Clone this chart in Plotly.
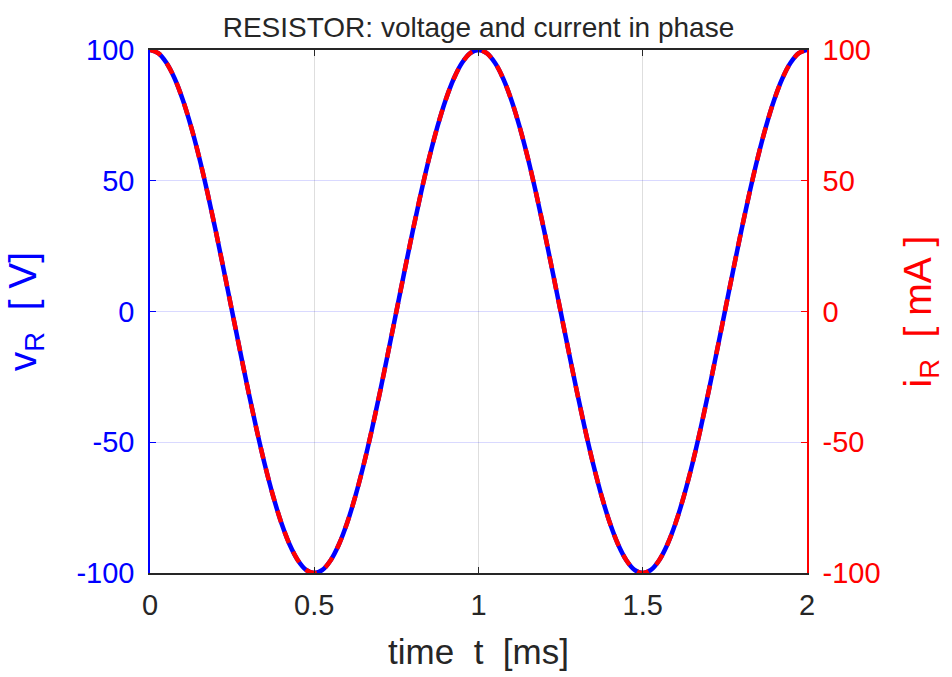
import plotly.graph_objects as go

# time axis [ms]
t_ms = [0.000, 0.025, 0.050, 0.075, 0.100, 0.125, 0.150, 0.175, 0.200, 0.225,
        0.250, 0.275, 0.300, 0.325, 0.350, 0.375, 0.400, 0.425, 0.450, 0.475,
        0.500, 0.525, 0.550, 0.575, 0.600, 0.625, 0.650, 0.675, 0.700, 0.725,
        0.750, 0.775, 0.800, 0.825, 0.850, 0.875, 0.900, 0.925, 0.950, 0.975,
        1.000, 1.025, 1.050, 1.075, 1.100, 1.125, 1.150, 1.175, 1.200, 1.225,
        1.250, 1.275, 1.300, 1.325, 1.350, 1.375, 1.400, 1.425, 1.450, 1.475,
        1.500, 1.525, 1.550, 1.575, 1.600, 1.625, 1.650, 1.675, 1.700, 1.725,
        1.750, 1.775, 1.800, 1.825, 1.850, 1.875, 1.900, 1.925, 1.950, 1.975, 2.000]

# resistor voltage [V]
v_R = [100.0, 98.8, 95.1, 89.1, 80.9, 70.7, 58.8, 45.4, 30.9, 15.6,
       0.0, -15.6, -30.9, -45.4, -58.8, -70.7, -80.9, -89.1, -95.1, -98.8,
       -100.0, -98.8, -95.1, -89.1, -80.9, -70.7, -58.8, -45.4, -30.9, -15.6,
       0.0, 15.6, 30.9, 45.4, 58.8, 70.7, 80.9, 89.1, 95.1, 98.8,
       100.0, 98.8, 95.1, 89.1, 80.9, 70.7, 58.8, 45.4, 30.9, 15.6,
       0.0, -15.6, -30.9, -45.4, -58.8, -70.7, -80.9, -89.1, -95.1, -98.8,
       -100.0, -98.8, -95.1, -89.1, -80.9, -70.7, -58.8, -45.4, -30.9, -15.6,
       0.0, 15.6, 30.9, 45.4, 58.8, 70.7, 80.9, 89.1, 95.1, 98.8, 100.0]

# resistor current [mA]
i_R = [100.0, 98.8, 95.1, 89.1, 80.9, 70.7, 58.8, 45.4, 30.9, 15.6,
       0.0, -15.6, -30.9, -45.4, -58.8, -70.7, -80.9, -89.1, -95.1, -98.8,
       -100.0, -98.8, -95.1, -89.1, -80.9, -70.7, -58.8, -45.4, -30.9, -15.6,
       0.0, 15.6, 30.9, 45.4, 58.8, 70.7, 80.9, 89.1, 95.1, 98.8,
       100.0, 98.8, 95.1, 89.1, 80.9, 70.7, 58.8, 45.4, 30.9, 15.6,
       0.0, -15.6, -30.9, -45.4, -58.8, -70.7, -80.9, -89.1, -95.1, -98.8,
       -100.0, -98.8, -95.1, -89.1, -80.9, -70.7, -58.8, -45.4, -30.9, -15.6,
       0.0, 15.6, 30.9, 45.4, 58.8, 70.7, 80.9, 89.1, 95.1, 98.8, 100.0]

x_ticks = [0, 0.5, 1, 1.5, 2]
x_tick_labels = ["0", "0.5", "1", "1.5", "2"]
y_ticks = [-100, -50, 0, 50, 100]
y_tick_labels = ["-100", "-50", "0", "50", "100"]

FONT = "Liberation Sans, Arial, Helvetica, sans-serif"
NB = "\u00a0"

fig = go.Figure()
fig.add_trace(go.Scatter(x=t_ms, y=v_R, mode="lines", yaxis="y",
                         line=dict(color="#0000ff", width=4.5, shape="spline"),
                         showlegend=False))
fig.add_trace(go.Scatter(x=t_ms, y=i_R, mode="lines", yaxis="y2",
                         line=dict(color="#ff0000", width=4.5, shape="spline", dash="12px,10px"),
                         showlegend=False))

fig.update_layout(
    width=952, height=677,
    margin=dict(l=150, r=145, t=50, b=102),
    paper_bgcolor="white", plot_bgcolor="white",
    font=dict(family=FONT, color="#262626"),
    title=dict(text="RESISTOR: voltage and current in phase",
               font=dict(size=28, color="#262626", family=FONT),
               x=(150 + 807) / 2 / 952, xanchor="center",
               y=1 - 27 / 677, yanchor="middle", yref="container"),
    xaxis=dict(range=[0, 2], tickvals=x_ticks, ticktext=x_tick_labels,
               showgrid=True, gridcolor="#dedede", gridwidth=1,
               zeroline=False, showline=True, linecolor="#262626", linewidth=1.5,
               mirror="ticks", ticks="inside", ticklen=6, tickcolor="#262626",
               tickfont=dict(size=29, color="#262626"), ticklabelstandoff=5,
               title=dict(text=f"time{NB}{NB}t{NB}{NB}[ms]", font=dict(size=35, color="#262626"),
                          standoff=20)),
    yaxis=dict(range=[-100, 100], tickvals=y_ticks, ticktext=y_tick_labels,
               showgrid=True, gridcolor="rgba(0,0,255,0.15)", gridwidth=1,
               zeroline=False, showline=True, linecolor="#0000ff", linewidth=1.5,
               ticks="inside", ticklen=6, tickcolor="#0000ff",
               tickfont=dict(size=29, color="#0000ff"), ticklabelstandoff=8,
               title=dict(text=f"v<sub>R</sub>{NB}{NB}[{NB}V]", font=dict(size=39, color="#0000ff"),
                          standoff=28)),
    yaxis2=dict(range=[-100, 100], tickvals=y_ticks, ticktext=y_tick_labels,
                overlaying="y", side="right",
                showgrid=False, zeroline=False, showline=True, linecolor="#ff0000", linewidth=1.5,
                ticks="inside", ticklen=6, tickcolor="#ff0000",
                tickfont=dict(size=29, color="#ff0000"), ticklabelstandoff=8,
                title=dict(text=f"i<sub>R</sub>{NB}{NB}[{NB}mA{NB}]", font=dict(size=39, color="#ff0000"),
                           standoff=24)),
)

fig.write_html("out.html")
